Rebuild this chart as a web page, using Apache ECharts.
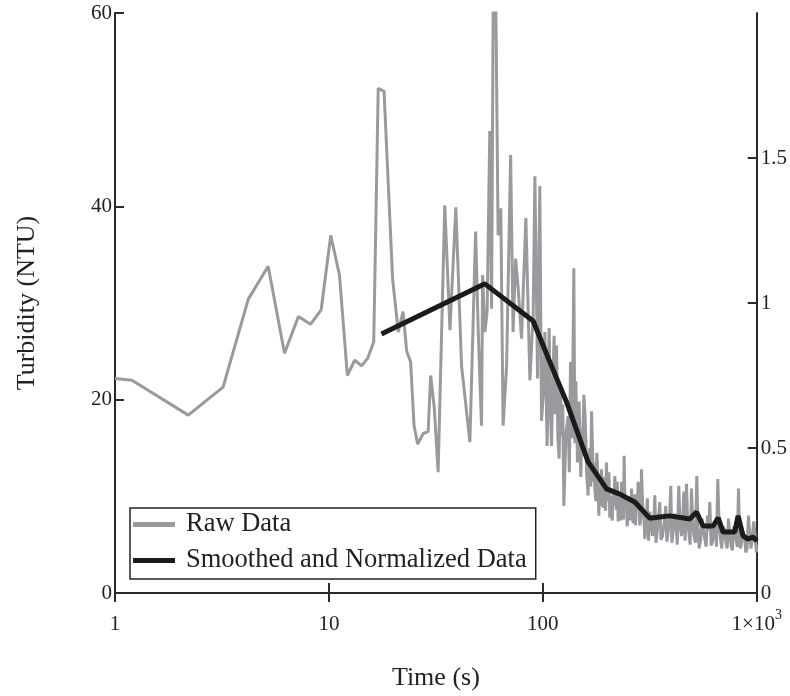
<!DOCTYPE html>
<html>
<head>
<meta charset="utf-8">
<script src="https://cdn.jsdelivr.net/npm/echarts@6/dist/echarts.min.js"></script>
<style>
html, body { margin: 0; padding: 0; background: #fff; }
#main { width: 790px; height: 696px; }
</style>
</head>
<body>
<div id="main"></div>
<script>
// raw turbidity readings (time in s, NTU)
var rawTime = [
    1, 1.2, 2.2, 3.2, 4.2, 5.2, 6.2, 7.2, 8.2, 9.2,
    10.2, 11.2, 12.2, 13.2, 14.2, 15.2, 16.2, 17.0, 18.1, 19.85,
    21.1, 22.2, 23.1, 24.1, 25.0, 26.0, 27.6, 29.1, 29.9, 31.1,
    32.4, 34.8, 36.8, 39.2, 41.7, 45.6, 48.5, 49.9, 51.7, 52.3,
    53.6, 54.9, 56.5, 57.6, 58.6, 60.3, 61.8, 63.6, 65.2, 67.7,
    70.7, 72.6, 74.6, 76.7, 79.5, 83.3, 87.0, 90.1, 91.8, 94.5,
    96.8, 98.6, 100.5, 102.2, 103.5, 104.7, 106.0, 107.0, 108.5, 109.8,
    111.2, 112.9, 114.4, 115.9, 117.6, 119.2, 120.8, 122.4, 123.9, 125.4,
    128.2, 131.3, 133.0, 134.7, 137.2, 139.6, 141.2, 142.7, 145.2, 147.8,
    150.5, 152.0, 153.3, 155.5, 157.6, 159.0, 160.2, 162.8, 164.3, 165.8,
    167.3, 168.9, 170.5, 172.0, 173.5, 175.0, 176.9, 178.8, 180.7, 182.7,
    184.0, 185.4, 186.7, 188.1, 189.8, 191.5, 193.2, 194.9, 196.6, 198.4,
    200.1, 201.9, 203.7, 205.6, 207.5, 209.4, 211.3, 213.2, 215.1, 217.0,
    219.0, 221.0, 222.9, 224.9, 227.0, 229.1, 231.2, 233.3, 235.0, 236.6,
    238.2, 239.9, 241.8, 243.8, 245.7, 247.7, 250.7, 253.7, 256.7, 259.7,
    262.0, 264.4, 266.7, 269.1, 271.5, 274.0, 276.4, 278.8, 281.4, 284.0,
    286.6, 289.2, 291.8, 294.4, 297.0, 299.7, 303.8, 308.0, 312.0, 316.2,
    321.0, 325.5, 329.5, 333.8, 338.0, 342.1, 347.0, 352.2, 357.0, 362.6,
    369.0, 375.7, 380.0, 385.1, 391.0, 396.4, 401.0, 406.4, 412.0, 418.4,
    425.0, 432.1, 438.0, 444.8, 450.0, 456.0, 462.7, 469.5, 475.0, 481.2,
    488.0, 495.4, 502.0, 509.4, 517.0, 524.4, 531.0, 537.6, 546.0, 555.2,
    563.0, 571.5, 580.0, 588.4, 596.0, 603.2, 612.0, 620.9, 630.0, 638.5,
    648.0, 657.4, 667.0, 676.8, 686.0, 695.9, 706.0, 716.3, 727.0, 737.5,
    748.0, 758.4, 769.0, 780.7, 792.0, 803.7, 812.0, 821.3, 830.0, 839.1,
    851.0, 862.9, 875.0, 888.4, 901.0, 914.6, 927.0, 940.6, 954.0, 968.3,
    982.0, 996.8, 1000
];
var rawTurbidity = [
    22.2, 22.0, 18.4, 21.3, 30.4, 33.8, 24.8, 28.6, 27.8, 29.3,
    37.0, 32.9, 22.5, 24.1, 23.5, 24.3, 26.0, 52.2, 51.9, 32.5,
    27.0, 29.1, 25.0, 23.9, 17.3, 15.4, 16.5, 16.7, 22.5, 19.1,
    12.5, 40.1, 27.2, 39.9, 23.5, 15.6, 37.4, 27.0, 17.3, 32.9,
    27.0, 29.1, 47.8, 29.4, 61, 61, 37.0, 39.8, 17.3, 23.5,
    45.3, 27.0, 34.6, 31.5, 26.3, 38.8, 22.0, 28.7, 43.1, 22.2,
    42.1, 17.8, 20.5, 27.0, 22.0, 15.2, 21.5, 27.4, 19.0, 15.2,
    21.0, 26.6, 18.5, 25.6, 16.0, 13.9, 21.5, 16.3, 19.5, 9.0,
    16.5, 18.3, 12.5, 23.9, 16.0, 33.6, 15.5, 21.9, 13.5, 19.8,
    12.0, 17.0, 14.2, 20.5, 18.3, 15.5, 12.5, 10.1, 13.5, 15.0,
    11.0, 18.8, 15.5, 11.5, 13.5, 10.8, 9.5, 14.5, 12.5, 8.0,
    10.0, 11.0, 9.0, 12.8, 10.5, 8.8, 12.0, 9.7, 8.5, 13.5,
    9.5, 11.5, 12.5, 7.8, 10.0, 8.0, 7.5, 10.5, 9.0, 12.1,
    10.0, 8.6, 11.5, 7.4, 8.5, 10.0, 7.5, 11.5, 9.5, 8.0,
    7.6, 14.2, 9.8, 8.8, 10.0, 6.9, 8.0, 9.5, 7.5, 10.8,
    9.0, 7.2, 10.2, 8.0, 7.0, 10.2, 8.6, 11.5, 9.4, 7.0,
    7.6, 12.8, 10.0, 8.2, 7.8, 5.6, 7.2, 9.8, 5.4, 8.4,
    7.6, 5.9, 6.8, 10.1, 5.2, 6.3, 7.8, 9.4, 5.5, 5.9,
    7.2, 9.0, 5.3, 6.3, 7.5, 11.1, 5.2, 6.3, 8.2, 7.7,
    5.0, 11.1, 7.2, 5.9, 6.8, 10.5, 5.4, 11.3, 7.4, 6.3,
    5.0, 10.8, 7.2, 5.9, 5.2, 12.1, 7.0, 4.6, 5.4, 7.7,
    6.4, 5.6, 4.8, 8.0, 6.5, 9.4, 4.9, 5.3, 6.6, 7.4,
    4.8, 11.8, 7.0, 5.6, 4.6, 6.9, 6.6, 5.3, 4.6, 7.7,
    6.2, 4.9, 4.4, 6.9, 6.6, 5.3, 4.8, 10.8, 6.4, 4.6,
    4.5, 6.3, 6.0, 4.2, 4.6, 8.0, 6.0, 4.6, 4.4, 7.4,
    6.0, 4.2, 5.0
];

// smoothed and normalized curve (right axis)
var smoothTime = [17.6, 53.6, 90.1, 107.8, 129, 162.8, 198.5, 229, 269, 316, 352, 392,
    486, 523, 561, 625, 660, 696, 789, 818, 863, 911, 961, 1000];
var smoothValue = [0.893, 1.066, 0.938, 0.797, 0.659, 0.452, 0.359, 0.341, 0.314, 0.258, 0.262, 0.266,
    0.255, 0.279, 0.231, 0.231, 0.259, 0.210, 0.210, 0.266, 0.197, 0.186, 0.193, 0.179];

// x tick labels, 1000 gets a superscript exponent
var xTickLabels = { 1: '{b|1}', 10: '{b|10}', 100: '{b|100}', 1000: '{b|1\u00d710}{sup|3}' };

var serif = '"Liberation Serif", "Times New Roman", serif';
var axisColor = '#2a2a2a';
var textColor = '#222';
var rawColor = '#9a9a9e';
var smoothColor = '#1c1a1a';

function pairs(xs, ys) {
    var out = [];
    for (let i = 0; i < xs.length; i++) {
        out.push([xs[i], ys[i]]);
    }
    return out;
}

var myChart = echarts.init(document.getElementById('main'));

var axisLineStyle = { color: axisColor, width: 2 };

var option = {
    animation: false,
    textStyle: { fontFamily: serif },
    grid: { left: 115, right: 32, top: 13, bottom: 102 },
    legend: {
        left: 130, top: 508,
        orient: 'vertical',
        itemWidth: 42, itemHeight: 5, itemGap: 9,
        borderColor: '#222', borderWidth: 1.5,
        padding: [3, 9, 5, 3],
        textStyle: { fontSize: 26.5, fontFamily: serif, color: textColor, padding: [0, 0, 0, 6] },
        data: [
            { name: 'Raw Data', icon: 'rect', itemStyle: { color: rawColor } },
            { name: 'Smoothed and Normalized Data', icon: 'rect', itemStyle: { color: smoothColor } }
        ]
    },
    xAxis: [{
        type: 'log', logBase: 10, min: 1, max: 1000,
        position: 'bottom',
        name: 'Time (s)', nameLocation: 'middle', nameGap: 72,
        nameTextStyle: { fontSize: 26, fontFamily: serif, color: textColor },
        axisLine: { show: true, lineStyle: axisLineStyle },
        axisTick: { show: true, inside: true, length: 10, lineStyle: axisLineStyle },
        minorTick: { show: false },
        splitLine: { show: false },
        axisLabel: {
            color: textColor, margin: 15, fontFamily: serif,
            showMinLabel: true, showMaxLabel: true,
            formatter: function (v) { return xTickLabels[Math.round(v)] || ''; },
            rich: {
                b: { fontSize: 21, lineHeight: 33, fontFamily: serif, color: textColor },
                sup: { fontSize: 14, lineHeight: 10, verticalAlign: 'top', fontFamily: serif, color: textColor }
            }
        }
    }, {
        type: 'log', logBase: 10, min: 1, max: 1000,
        position: 'top',
        axisLine: { show: true, lineStyle: axisLineStyle },
        axisTick: { show: true, inside: true, length: 9, lineStyle: axisLineStyle },
        axisLabel: { show: false },
        splitLine: { show: false }
    }],
    yAxis: [{
        type: 'value', min: 0, max: 60, interval: 20,
        position: 'left',
        name: 'Turbidity (NTU)', nameLocation: 'middle', nameGap: 75,
        nameTextStyle: { fontSize: 26, fontFamily: serif, color: textColor },
        axisLine: { show: true, lineStyle: axisLineStyle },
        axisTick: { show: true, inside: true, length: 9, lineStyle: axisLineStyle },
        axisLabel: { fontSize: 21, color: textColor, margin: 3, fontFamily: serif },
        splitLine: { show: false }
    }, {
        type: 'value', min: 0, max: 2, interval: 0.5,
        position: 'right',
        axisLine: { show: true, lineStyle: axisLineStyle },
        axisTick: { show: true, inside: true, length: 9, lineStyle: axisLineStyle },
        axisLabel: { fontSize: 21, color: textColor, margin: 4, fontFamily: serif, showMaxLabel: false },
        splitLine: { show: false }
    }],
    series: [{
        name: 'Raw Data',
        type: 'line',
        xAxisIndex: 0, yAxisIndex: 0,
        data: pairs(rawTime, rawTurbidity),
        showSymbol: false, symbol: 'none',
        lineStyle: { color: rawColor, width: 3 },
        itemStyle: { color: rawColor },
        z: 2
    }, {
        name: 'Smoothed and Normalized Data',
        type: 'line',
        xAxisIndex: 0, yAxisIndex: 1,
        data: pairs(smoothTime, smoothValue),
        showSymbol: false, symbol: 'none',
        lineStyle: { color: smoothColor, width: 5 },
        itemStyle: { color: smoothColor },
        z: 3
    }]
};

myChart.setOption(option);
</script>
</body>
</html>
